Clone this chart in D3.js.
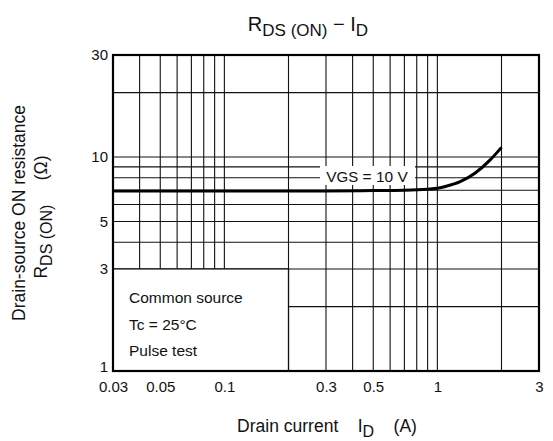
<!DOCTYPE html>
<html><head><meta charset="utf-8">
<script src="https://cdn.jsdelivr.net/npm/d3@7"></script>
<style>body{margin:0;background:#fff}svg{display:block;font-family:"Liberation Sans",Arial,sans-serif}</style>
</head><body><svg id="c" width="553" height="441"></svg>
<script>
const currentA = [0.03, 0.1, 0.3, 0.5, 0.7, 0.9, 1.0, 1.1, 1.28, 1.5, 1.77, 2.0];
const resistance = [6.95, 6.95, 6.95, 6.97, 7.0, 7.08, 7.15, 7.3, 7.67, 8.4, 9.7, 11.1];
const xTickLabels = [0.03, 0.05, 0.1, 0.3, 0.5, 1, 3];
const yTickLabels = [1, 3, 5, 10, 30];
const xGrid = [0.04,0.05,0.06,0.07,0.08,0.09,0.1,0.2,0.3,0.4,0.5,0.6,0.7,0.8,0.9,1,2];
const yGrid = [2,3,4,5,6,7,8,9,10,20];

const svg = d3.select("#c");
const L = 113, R = 539, T = 55, B = 371;
const x = d3.scaleLog().domain([0.03, 3]).range([L, R]);
const y = d3.scaleLog().domain([1, 30]).range([B, T]);

const g = svg.append("g");
g.selectAll("line.vx").data(xGrid).enter().append("line")
  .attr("x1", d => x(d)).attr("x2", d => x(d)).attr("y1", T).attr("y2", B)
  .attr("stroke", "#111").attr("stroke-width", 1.1);
g.selectAll("line.hy").data(yGrid).enter().append("line")
  .attr("y1", d => y(d)).attr("y2", d => y(d)).attr("x1", L).attr("x2", R)
  .attr("stroke", "#111").attr("stroke-width", 1.1);

// legend box (lower left)
g.append("rect").attr("x", L).attr("y", y(3)).attr("width", x(0.2) - L).attr("height", B - y(3))
  .attr("fill", "#fff").attr("stroke", "#111").attr("stroke-width", 1.3);
const notes = ["Common source", "Tc = 25°C", "Pulse test"];
g.selectAll("text.note").data(notes).enter().append("text")
  .attr("x", L + 16).attr("y", (d, i) => 303 + i * 26.5)
  .attr("font-size", 15.5).attr("fill", "#111").text(d => d);

// curve
const line = d3.line().x((d, i) => x(currentA[i])).y(d => y(d)).curve(d3.curveMonotoneX);
g.append("path").attr("d", line(resistance)).attr("fill", "none")
  .attr("stroke", "#000").attr("stroke-width", 3);

// VGS label
g.append("rect").attr("x", 320).attr("y", 166).attr("width", 95).attr("height", 19).attr("fill", "#fff");
const vt = g.append("text").attr("x", 367).attr("y", 182).attr("text-anchor", "middle")
  .attr("font-size", 15.5).attr("fill", "#111");
vt.append("tspan").text("V");
vt.append("tspan").attr("font-size", 15).text("GS");
vt.append("tspan").text(" = 10 V");

// frame
g.append("rect").attr("x", L).attr("y", T).attr("width", R - L).attr("height", B - T)
  .attr("fill", "none").attr("stroke", "#000").attr("stroke-width", 2.2);

// axes
const ax = svg.append("g").attr("transform", `translate(0,${B})`)
  .call(d3.axisBottom(x).tickValues(xTickLabels).tickSize(0).tickPadding(10).tickFormat(d => String(d)));
ax.select(".domain").remove();
ax.selectAll("text").attr("font-size", 15).attr("fill", "#111").attr("font-family", "Liberation Sans, Arial, sans-serif");
const ay = svg.append("g").attr("transform", `translate(${L},0)`)
  .call(d3.axisLeft(y).tickValues(yTickLabels).tickSize(0).tickPadding(5).tickFormat(d => String(d)));
ay.select(".domain").remove();
ay.selectAll("text").attr("font-size", 15).attr("fill", "#111").attr("font-family", "Liberation Sans, Arial, sans-serif")
  .attr("y", d => d === 1 ? -4 : 0);

// title
const t = svg.append("text").attr("x", 308).attr("y", 31).attr("text-anchor", "middle")
  .attr("font-size", 20).attr("fill", "#111");
t.append("tspan").text("R");
t.append("tspan").attr("font-size", 17).attr("dy", 5).text("DS (ON)");
t.append("tspan").attr("dy", -5).text(" − I");
t.append("tspan").attr("font-size", 17).attr("dy", 5).text("D");

// x label
const xl = svg.append("text").attr("x", 327).attr("y", 432).attr("text-anchor", "middle")
  .attr("font-size", 17.5).attr("fill", "#111").attr("xml:space", "preserve");
xl.append("tspan").text("Drain current    I");
xl.append("tspan").attr("font-size", 16).attr("dy", 5).text("D");
xl.append("tspan").attr("dy", -5).text("    (A)");

// y label
svg.append("text").attr("transform", "translate(25,213) rotate(-90)")
  .attr("text-anchor", "middle").attr("font-size", 17.5).attr("fill", "#111")
  .text("Drain-source ON resistance");
const yl2 = svg.append("text").attr("transform", "translate(47,217) rotate(-90)")
  .attr("text-anchor", "middle").attr("font-size", 17.5).attr("fill", "#111").attr("xml:space", "preserve");
yl2.append("tspan").text("R");
yl2.append("tspan").attr("font-size", 16).attr("dy", 5).text("DS (ON)");
yl2.append("tspan").attr("dy", -5).text("     (Ω)");
</script></body></html>
